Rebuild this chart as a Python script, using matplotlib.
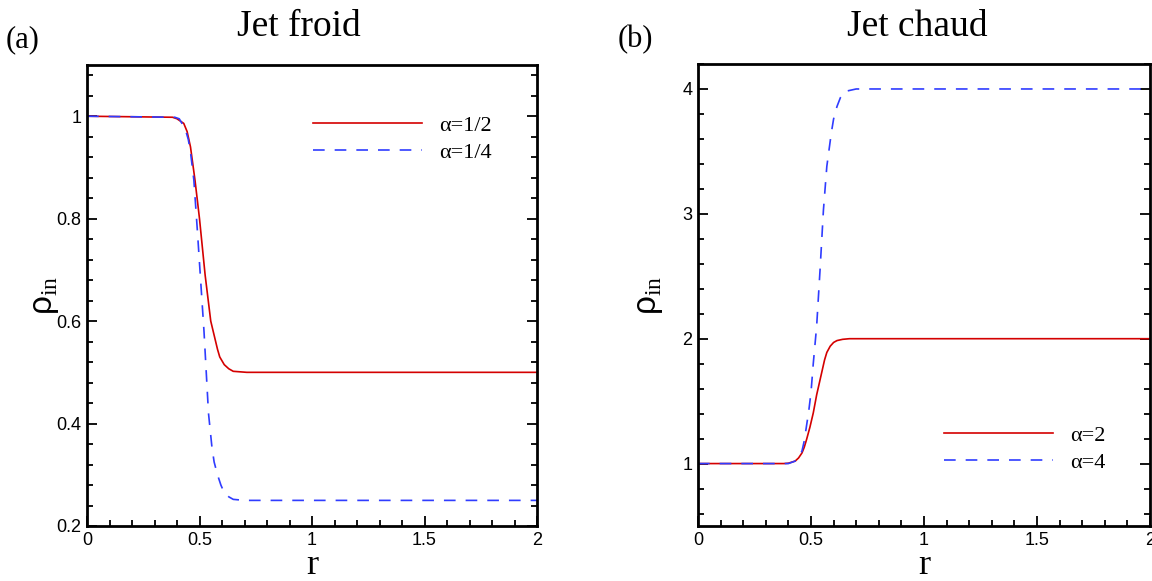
import matplotlib
matplotlib.use("Agg")
import matplotlib.pyplot as plt
from matplotlib.ticker import MultipleLocator

plt.rcParams["mathtext.fontset"] = "custom"
plt.rcParams["mathtext.rm"] = "Liberation Serif"

# Jet froid (a)
r_cold_half = [0, 0.38, 0.40, 0.43, 0.445, 0.46, 0.48, 0.50, 0.525, 0.55, 0.58, 0.59, 0.61, 0.63,
               0.65, 0.68, 0.71, 2.0]
rho_cold_half = [1, 0.998, 0.995, 0.986, 0.97, 0.94, 0.875, 0.80, 0.69, 0.60, 0.545, 0.53, 0.515,
                 0.507, 0.502, 0.501, 0.5, 0.5]
r_cold_quarter = [0, 0.39, 0.41, 0.43, 0.44, 0.45, 0.46, 0.475, 0.49, 0.505, 0.52, 0.53, 0.54,
                  0.555, 0.565, 0.58, 0.595, 0.61, 0.63, 0.65, 0.70, 2.0]
rho_cold_quarter = [1, 0.998, 0.995, 0.98, 0.97, 0.955, 0.93, 0.875, 0.78, 0.68, 0.58, 0.50, 0.42,
                    0.355, 0.325, 0.30, 0.28, 0.265, 0.257, 0.252, 0.25, 0.25]

# Jet chaud (b)
r_hot_2 = [0, 0.38, 0.40, 0.43, 0.445, 0.46, 0.47, 0.48, 0.495, 0.51, 0.525, 0.54, 0.56, 0.57,
           0.585, 0.60, 0.615, 0.64, 0.67, 2.0]
rho_hot_2 = [1, 1.0, 1.003, 1.02, 1.045, 1.085, 1.13, 1.19, 1.29, 1.405, 1.55, 1.67, 1.83, 1.89,
             1.94, 1.97, 1.985, 1.995, 2.0, 2.0]
r_hot_4 = [0, 0.40, 0.43, 0.445, 0.46, 0.47, 0.48, 0.49, 0.50, 0.51, 0.525, 0.54, 0.555, 0.57,
           0.59, 0.60, 0.615, 0.63, 0.65, 0.70, 2.0]
rho_hot_4 = [1, 1.0, 1.02, 1.05, 1.1, 1.18, 1.3, 1.42, 1.57, 1.8, 2.1, 2.55, 3.03, 3.38,
             3.65, 3.76, 3.86, 3.93, 3.98, 4.0, 4.0]

RED = "#d40000"
BLUE = "#2f3cff"
SERIF = "Liberation Serif"
SANS = "Liberation Sans"

fig = plt.figure(figsize=(11.52, 5.81), dpi=100)
ax1 = fig.add_axes([87 / 1152, 1 - 526 / 581, 450 / 1152, 461 / 581])
ax2 = fig.add_axes([698 / 1152, 1 - 526 / 581, 452 / 1152, 462 / 581])


def style(ax, ylim, ymajor, yminor):
    ax.set_xlim(0, 2)
    ax.set_ylim(*ylim)
    ax.xaxis.set_major_locator(MultipleLocator(0.5))
    ax.xaxis.set_minor_locator(MultipleLocator(0.1))
    ax.yaxis.set_major_locator(MultipleLocator(ymajor))
    ax.yaxis.set_minor_locator(MultipleLocator(yminor))
    ax.tick_params(which="both", direction="in", left=True, right=True, bottom=True, top=False,
                   width=1.3, labelsize=13, pad=4)
    ax.tick_params(which="major", length=7)
    ax.tick_params(which="minor", length=4)
    for s in ax.spines.values():
        s.set_linewidth(2)
    ax.xaxis.set_major_formatter(plt.FuncFormatter(lambda v, p: ("%g" % v)))
    ax.yaxis.set_major_formatter(plt.FuncFormatter(lambda v, p: ("%g" % v)))
    for lab in ax.get_xticklabels() + ax.get_yticklabels():
        lab.set_fontfamily(SANS)
    ax.set_xlabel("r", fontfamily=SERIF, fontsize=26, labelpad=0)
    ax.set_ylabel(r"ρ$_{\mathrm{in}}$", fontfamily=SANS, fontsize=24)


style(ax1, (0.2, 1.1), 0.2, 0.04)
style(ax2, (0.5, 4.2), 1, 0.2)
ax1.yaxis.set_label_coords(-0.058, 0.5)
ax2.yaxis.set_label_coords(-0.073, 0.5)

ax1.plot(r_cold_half, rho_cold_half, color=RED, lw=1.2, label="α=1/2")
ax1.plot(r_cold_quarter, rho_cold_quarter, color=BLUE, lw=1.2, dashes=(7, 6), label="α=1/4")
ax2.plot(r_hot_2, rho_hot_2, color=RED, lw=1.2, label="α=2")
ax2.plot(r_hot_4, rho_hot_4, color=BLUE, lw=1.2, dashes=(7, 6), label="α=4")

leg_kw = dict(frameon=False, loc="center left", handlelength=4.9, handletextpad=0.8,
              labelspacing=0.3, borderpad=0, borderaxespad=0,
              prop={"family": SERIF, "size": 16})
ax1.legend(bbox_to_anchor=(0.502, 0.839), **leg_kw)
ax2.legend(bbox_to_anchor=(0.544, 0.167), **leg_kw)

fig.text(299 / 1152, 1 - 27 / 581, "Jet froid", fontfamily=SERIF, fontsize=27, ha="center", va="center")
fig.text(917 / 1152, 1 - 27 / 581, "Jet chaud", fontfamily=SERIF, fontsize=27, ha="center", va="center")
fig.text(23 / 1152, 1 - 40 / 581, "(a)", fontfamily=SERIF, fontsize=22, ha="center", va="center")
fig.text(635 / 1152, 1 - 40 / 581, "(b)", fontfamily=SERIF, fontsize=22, ha="center", va="center")

fig.savefig("out.png", dpi=100)
